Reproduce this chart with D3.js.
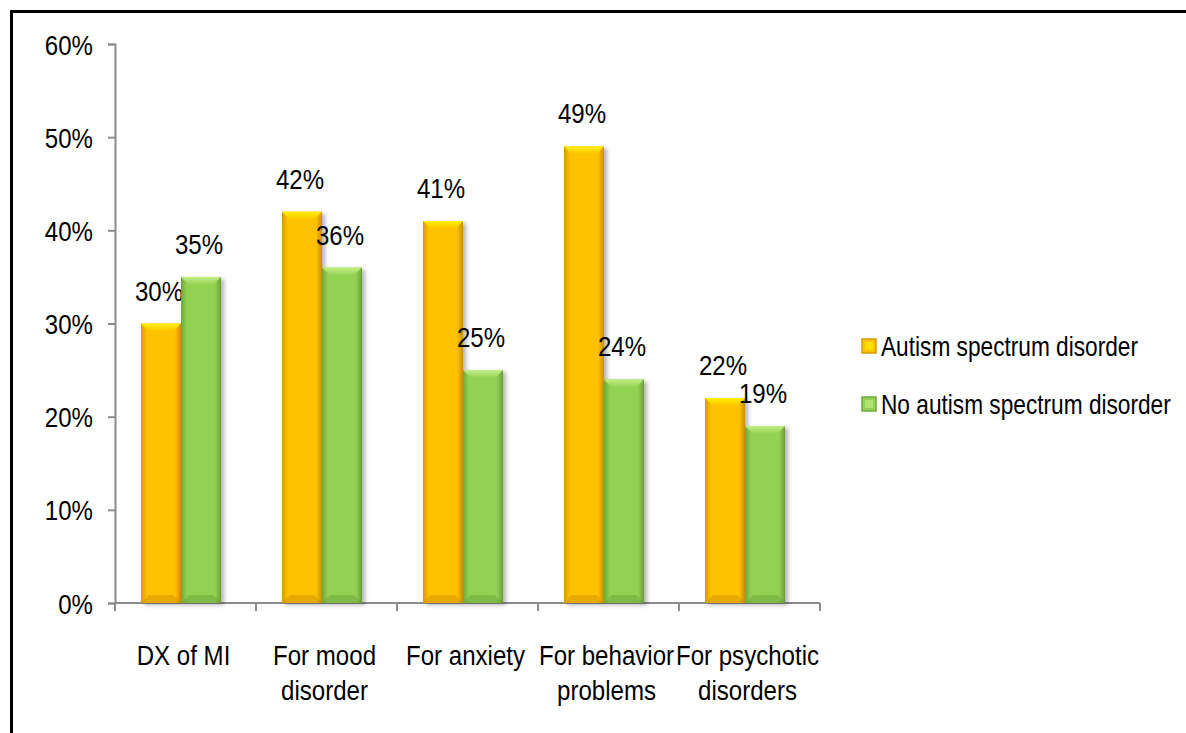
<!DOCTYPE html>
<html>
<head>
<meta charset="utf-8">
<script src="https://cdn.jsdelivr.net/npm/d3@7"></script>
<style>
  html, body { margin: 0; padding: 0; background: #fff; }
  svg { display: block; }
  text { font-family: "Liberation Sans", Arial, sans-serif; fill: #000; }
</style>
</head>
<body>
<svg id="chart"></svg>
<script>
// Chart data
const categories = ['DX of MI', 'For mood disorder', 'For anxiety', 'For behavior problems', 'For psychotic disorders'];
const categoryLines = [['DX of MI'], ['For mood', 'disorder'], ['For anxiety'], ['For behavior', 'problems'], ['For psychotic', 'disorders']];
const seriesNames = ['Autism spectrum disorder', 'No autism spectrum disorder'];
const autismValues = [0.30, 0.42, 0.41, 0.49, 0.22];
const noAutismValues = [0.35, 0.36, 0.25, 0.24, 0.19];
const yTicks = [0, 0.1, 0.2, 0.3, 0.4, 0.5, 0.6];

document.addEventListener('DOMContentLoaded', () => {
    const width = 1186, height = 733;
    const squeeze = 0.86; // narrow the text like the original Calibri
    const fontSize = '28px';
    const svg = d3.select('#chart').attr('width', width).attr('height', height);

    // helper: condensed text at a position
    function label(parent, x, y, anchor, sq) {
        return parent.append('text')
            .attr('transform', `translate(${x},${y}) scale(${sq || squeeze},1)`)
            .attr('text-anchor', anchor)
            .style('font-size', fontSize);
    }

    // outer frame
    svg.append('rect')
        .attr('x', 11.5).attr('y', 11.5)
        .attr('width', 1300).attr('height', 900)
        .attr('fill', '#fff')
        .attr('stroke', '#000')
        .attr('stroke-width', 3);

    const x0 = d3.scaleBand().domain(categories).range([115, 820]);
    const x1 = d3.scaleBand().domain(seriesNames).range([26, 106]);
    const y = d3.scaleLinear().domain([0, 0.6]).range([603, 44]);

    const colors = {
        'Autism spectrum disorder': { edge: '#D99A00', mid: '#FFC200', top: '#FFF000', shade: '#C88E00' },
        'No autism spectrum disorder': { edge: '#6FA83A', mid: '#93D152', top: '#C3EE86', shade: '#6A9E38' }
    };

    const defs = svg.append('defs');
    seriesNames.forEach((s, i) => {
        const c = colors[s];
        const g = defs.append('linearGradient').attr('id', 'grad' + i)
            .attr('x1', '0').attr('x2', '1').attr('y1', '0').attr('y2', '0');
        g.append('stop').attr('offset', '0%').attr('stop-color', c.edge);
        g.append('stop').attr('offset', '15%').attr('stop-color', c.mid);
        g.append('stop').attr('offset', '85%').attr('stop-color', c.mid);
        g.append('stop').attr('offset', '100%').attr('stop-color', c.shade);
        const tg = defs.append('linearGradient').attr('id', 'top' + i)
            .attr('x1', '0').attr('x2', '0').attr('y1', '0').attr('y2', '1');
        tg.append('stop').attr('offset', '0%').attr('stop-color', c.top);
        tg.append('stop').attr('offset', '100%').attr('stop-color', c.mid);
    });
    const shadow = defs.append('filter').attr('id', 'shadow')
        .attr('x', '-20%').attr('y', '-10%').attr('width', '150%').attr('height', '130%');
    shadow.append('feDropShadow').attr('dx', 3).attr('dy', 2).attr('stdDeviation', 2)
        .attr('flood-color', '#000').attr('flood-opacity', 0.3);

    // y axis
    const yAxis = svg.append('g').attr('transform', 'translate(115,0)')
        .call(d3.axisLeft(y).tickValues(yTicks).tickFormat(d3.format('.0%')).tickSize(7));
    yAxis.select('.domain').attr('stroke', '#8c8c8c').attr('stroke-width', 2);
    yAxis.selectAll('.tick line').attr('stroke', '#8c8c8c').attr('stroke-width', 2);
    yAxis.selectAll('.tick text')
        .attr('x', null).attr('dy', null)
        .attr('transform', `translate(-22,10) scale(${squeeze},1)`)
        .style('font-size', fontSize).attr('fill', '#000');

    // x axis
    const xAxis = svg.append('g').attr('transform', 'translate(0,603)');
    xAxis.append('line')
        .attr('x1', x0.range()[0]).attr('x2', x0.range()[1])
        .attr('stroke', '#8c8c8c').attr('stroke-width', 2);
    const tickPositions = categories.map(c => x0(c)).concat([x0.range()[1]]);
    xAxis.selectAll('.xtick').data(tickPositions).enter().append('line')
        .attr('x1', d => d).attr('x2', d => d).attr('y1', 0).attr('y2', 8)
        .attr('stroke', '#8c8c8c').attr('stroke-width', 2);

    categories.forEach((c, i) => {
        const t = label(svg, x0(c) + x0.bandwidth() / 2 - 2, 665, 'middle');
        categoryLines[i].forEach((line, j) => {
            t.append('tspan')
                .attr('x', 0)
                .attr('dy', j === 0 ? 0 : 35)
                .text(line);
        });
    });

    // bars
    const seriesValues = [autismValues, noAutismValues];
    seriesNames.forEach((s, si) => {
        const c = colors[s];
        const data = categories.map((cat, i) => ({ cat, v: seriesValues[si][i] }));
        const g = svg.append('g').attr('class', 'series-' + si);
        const bar = g.selectAll('g.bar').data(data).enter().append('g').attr('class', 'bar');
        bar.append('rect')
            .attr('x', d => x0(d.cat) + x1(s))
            .attr('y', d => y(d.v))
            .attr('width', x1.bandwidth())
            .attr('height', d => y(0) - y(d.v))
            .attr('fill', `url(#grad${si})`)
            .attr('filter', 'url(#shadow)');
        // bevel on top
        const bev = 8;
        bar.append('path')
            .attr('d', d => {
                const bx = x0(d.cat) + x1(s), by = y(d.v), bw = x1.bandwidth();
                return `M${bx},${by}L${bx + bw},${by}L${bx + bw - bev},${by + bev}L${bx + bev},${by + bev}Z`;
            })
            .attr('fill', `url(#top${si})`);
        // bevel at bottom
        bar.append('path')
            .attr('d', d => {
                const bx = x0(d.cat) + x1(s), by = y(0), bw = x1.bandwidth();
                return `M${bx},${by}L${bx + bw},${by}L${bx + bw - bev},${by - bev}L${bx + bev},${by - bev}Z`;
            })
            .attr('fill', c.shade).attr('opacity', 0.45);
        // value labels
        data.forEach(d => {
            label(g, x0(d.cat) + x1(s) + x1.bandwidth() / 2 - 2, y(d.v) - 23, 'middle')
                .text(d3.format('.0%')(d.v));
        });
    });

    // legend
    const legend = svg.append('g').attr('transform', 'translate(862,346)');
    seriesNames.forEach((s, i) => {
        const item = legend.append('g').attr('transform', `translate(0,${i * 58})`);
        item.append('rect')
            .attr('x', 0).attr('y', -7).attr('width', 14).attr('height', 14)
            .attr('fill', colors[s].mid).attr('stroke', colors[s].edge).attr('stroke-width', 1.5);
        item.append('rect')
            .attr('x', 3).attr('y', -4).attr('width', 8).attr('height', 8)
            .attr('fill', colors[s].top).attr('opacity', 0.6);
        label(item, 19, 10, 'start', 0.81).text(s);
    });
});
</script>
</body>
</html>
